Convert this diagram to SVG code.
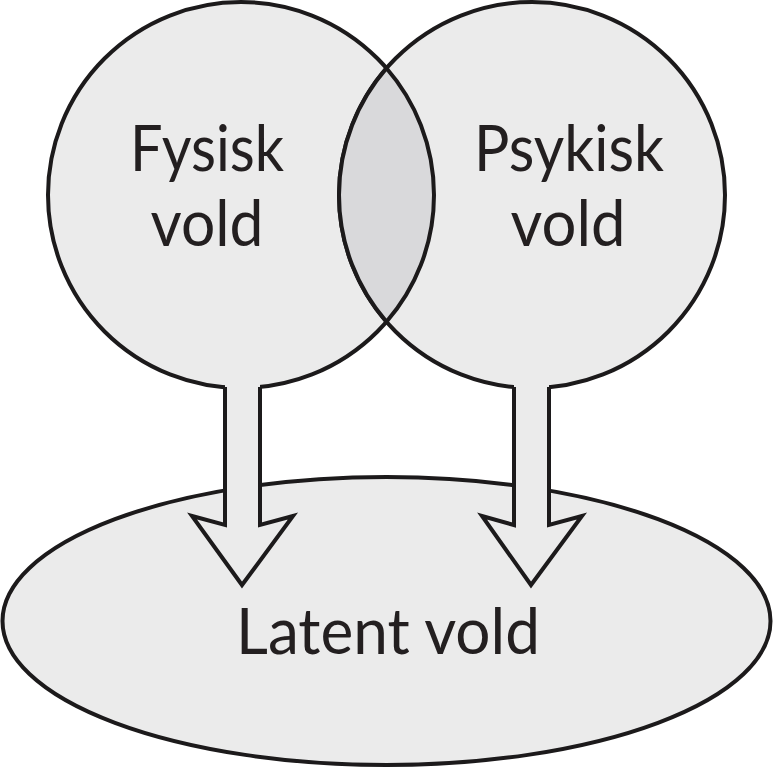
<svg xmlns="http://www.w3.org/2000/svg" width="774" height="767" viewBox="0 0 774 767">
<style>
.shape{fill:#ebebeb;stroke:#1c1a1b;stroke-width:4}
.lens{fill:#d9d9db;stroke:#1c1a1b;stroke-width:4}
.lbl{font-family:Lato,"Open Sans","Liberation Sans",sans-serif;font-size:64px;fill:#231f20;text-anchor:middle}
.afill{fill:#ebebeb;stroke:none}
.aline{fill:none;stroke:#1c1a1b;stroke-width:4;stroke-linejoin:miter;stroke-miterlimit:10}
</style>
<rect width="774" height="767" fill="#ffffff"/>
<g id="latent">
<ellipse class="shape" cx="386.5" cy="621" rx="384" ry="144"/>
<text class="lbl" x="388" y="654" textLength="304" lengthAdjust="spacingAndGlyphs">Latent vold</text>
</g>
<g id="fysisk">
<circle class="shape" cx="241" cy="195" r="193"/>
</g>
<g id="psykisk">
<circle class="shape" cx="532" cy="195" r="193"/>
</g>
<g id="overlap">
<path class="lens" d="M386.5,68.2 A193,193 0 0 1 386.5,321.8 A193,193 0 0 1 386.5,68.2 Z"/>
</g>
<g id="labels">
<text class="lbl" x="207" y="171" textLength="154" lengthAdjust="spacingAndGlyphs">Fysisk</text>
<text class="lbl" x="207" y="246" textLength="113" lengthAdjust="spacingAndGlyphs">vold</text>
<text class="lbl" x="569" y="171" textLength="190" lengthAdjust="spacingAndGlyphs">Psykisk</text>
<text class="lbl" x="568" y="246" textLength="115" lengthAdjust="spacingAndGlyphs">vold</text>
</g>
<g id="connectors">
<polygon class="afill" points="225,372 225,525 192,516 242,585 293,516 260,525 260,372"/>
<path class="aline" d="M225,387 L225,525 L192,516 L242,585 L293,516 L260,525 L260,387"/>
<polygon class="afill" points="514,372 514,525 482,516 531,585 582,516 549,525 549,372"/>
<path class="aline" d="M514,387 L514,525 L482,516 L531,585 L582,516 L549,525 L549,387"/>
</g>
</svg>
